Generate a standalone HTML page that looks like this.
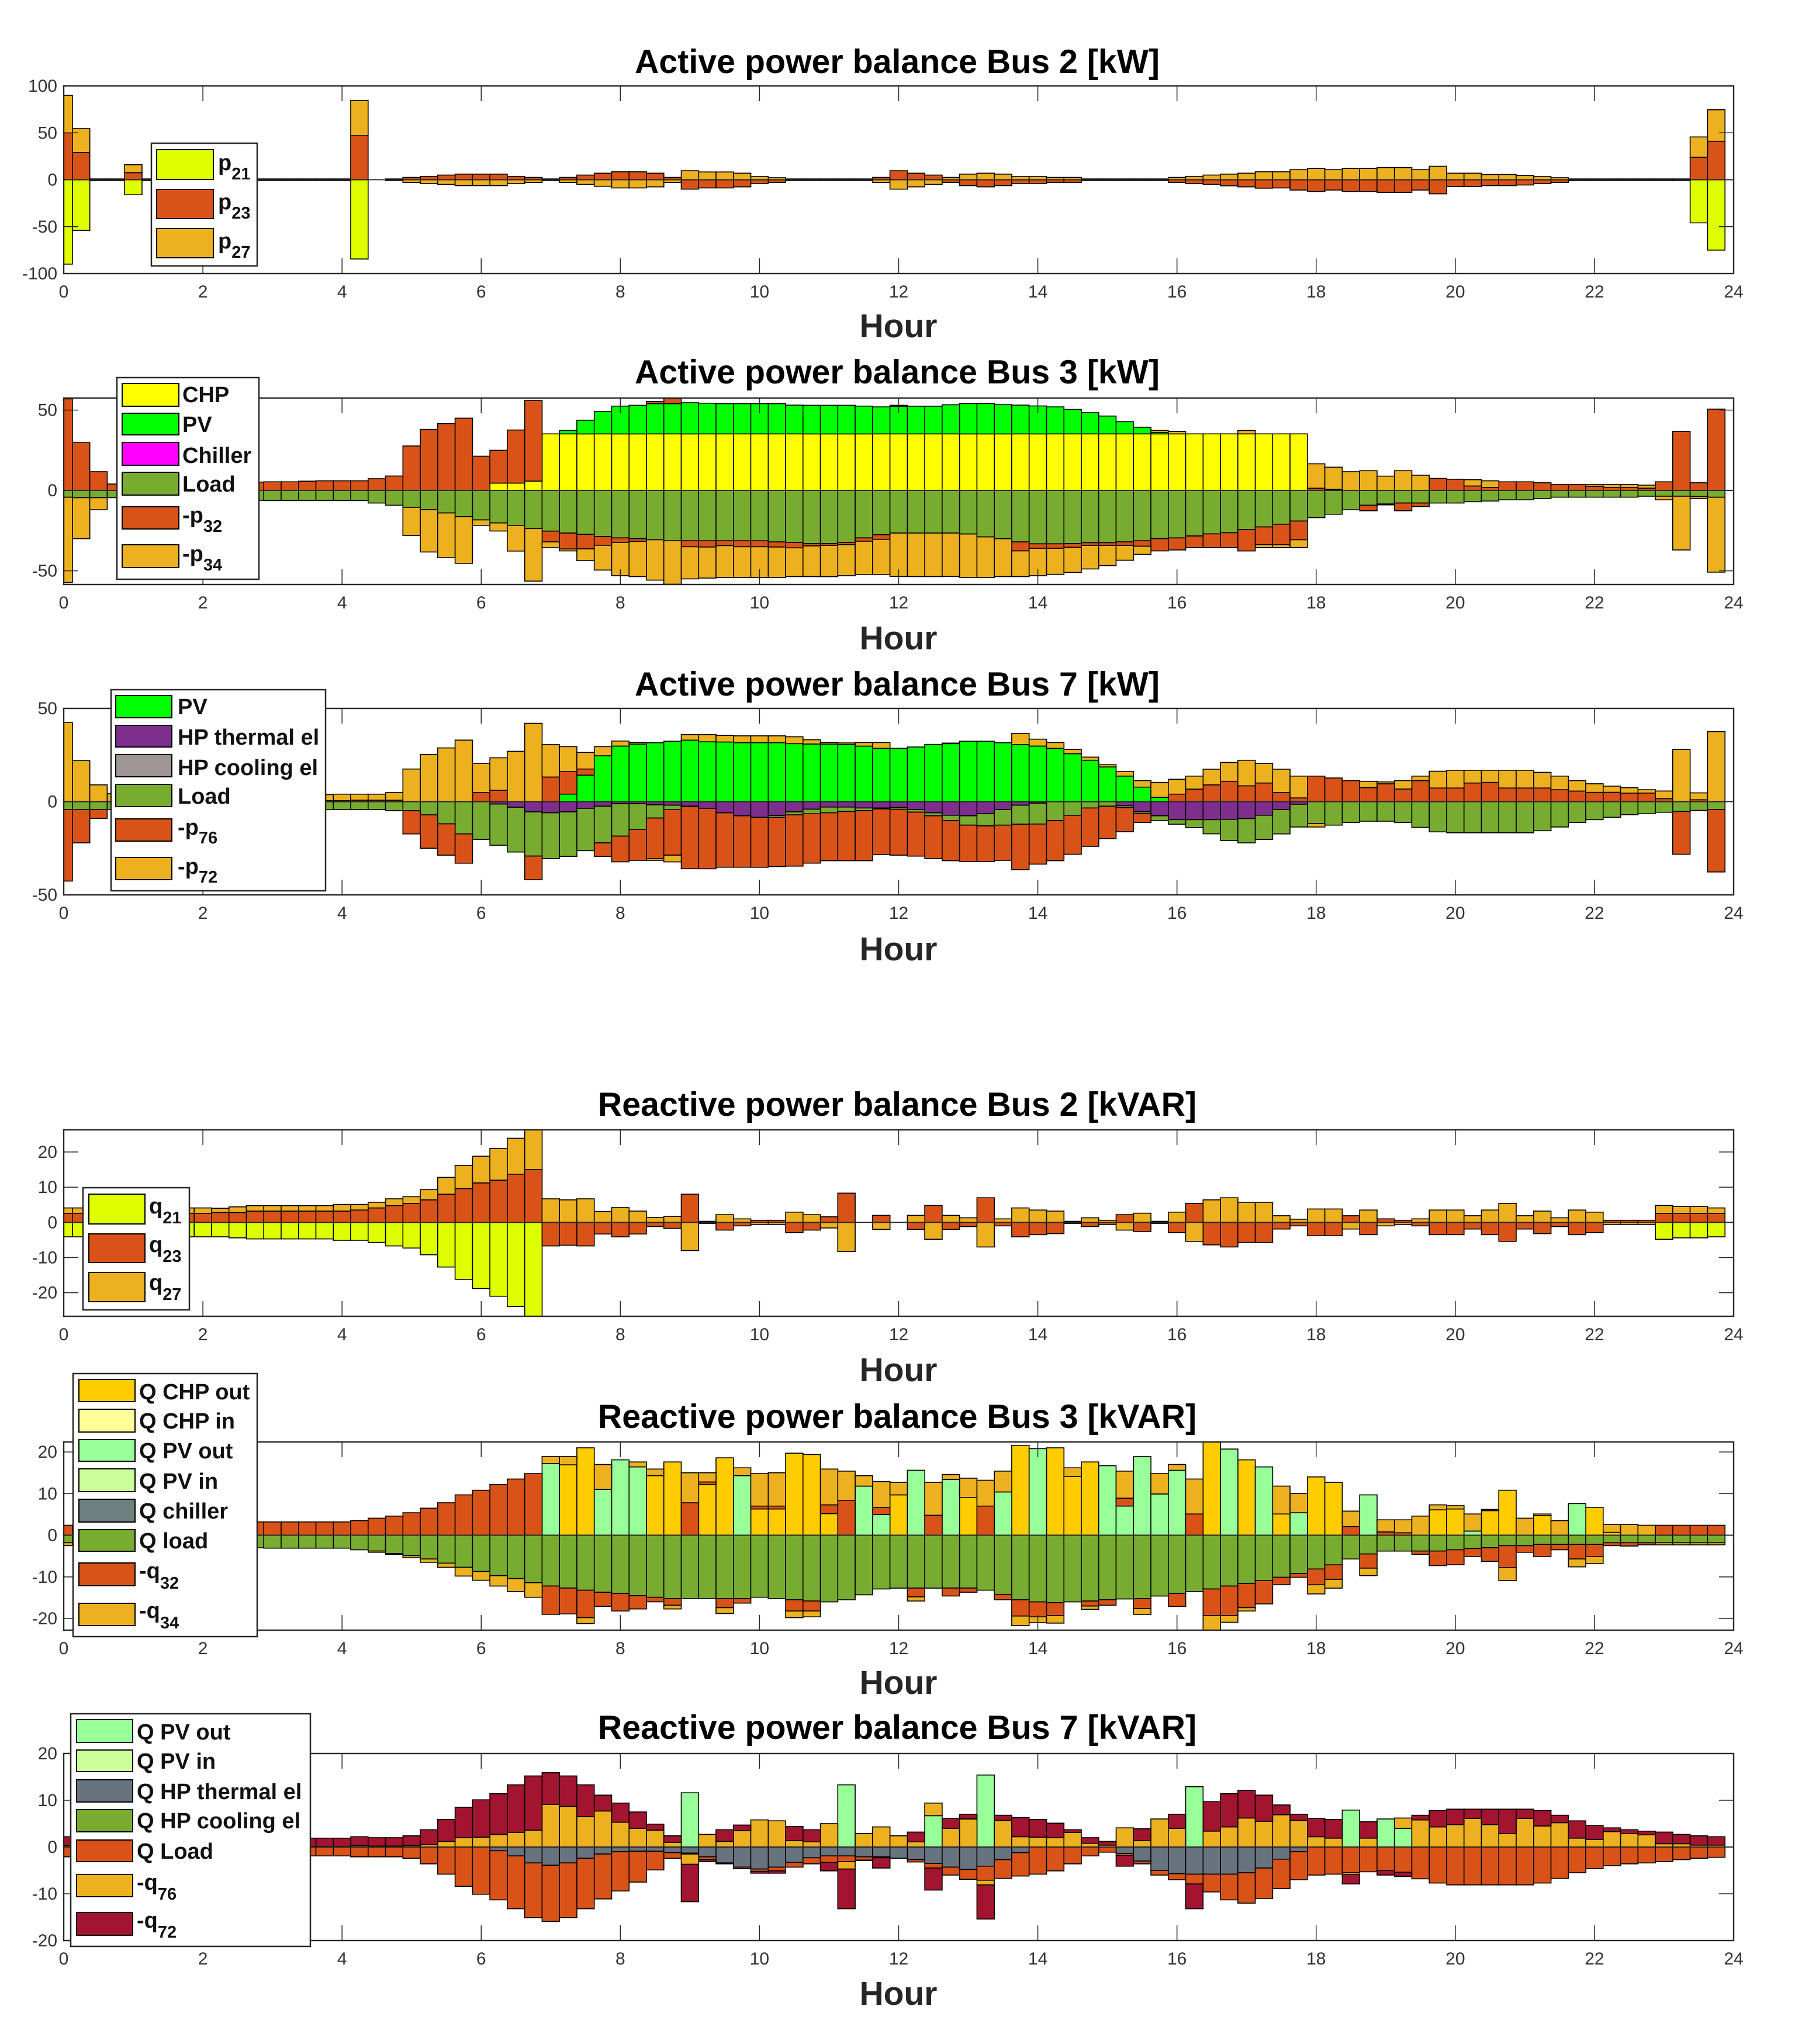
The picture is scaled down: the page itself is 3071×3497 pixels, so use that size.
<!DOCTYPE html>
<html lang="en">
<head>
<meta charset="utf-8">
<title>Active and reactive power balance by bus</title>
<style>
html,body{margin:0;padding:0;background:#fff}
svg{display:block}
text{font-family:"Liberation Sans",Arial,sans-serif}
.title{font-size:57.3px;font-weight:700;fill:#000;text-anchor:middle}
.xlabel{font-size:57px;font-weight:700;fill:#262626;text-anchor:middle}
.tick{font-size:30px;fill:#333}
.lg{font-size:38px;font-weight:700;fill:#111}
.lg tspan{font-size:29px}
.box{fill:#fff;stroke:#262626;stroke-width:2.5}
.sw{stroke:#000;stroke-width:2}
</style>
</head>
<body>
<svg id="figure" xmlns="http://www.w3.org/2000/svg" width="3071" height="3497" viewBox="0 0 3071 3497">
<rect width="3071" height="3497" fill="#fff"/>

<g>
<text class="title" x="1535" y="125">Active power balance Bus 2 [kW]</text>
<text class="xlabel" x="1537" y="577">Hour</text>
<g id="bars-a"></g>
<g id="axes-a"></g>
<g>
<rect class="box" x="259" y="245" width="181" height="210"/>
<rect class="sw" x="268" y="256" width="97" height="51" fill="#DFFF00"/>
<rect class="sw" x="268" y="324" width="97" height="50" fill="#D95319"/>
<rect class="sw" x="268" y="391" width="97" height="50" fill="#EDB120"/>
<text class="lg" x="373" y="291">p<tspan dy="16">21</tspan></text>
<text class="lg" x="373" y="358">p<tspan dy="16">23</tspan></text>
<text class="lg" x="373" y="425">p<tspan dy="16">27</tspan></text>
</g>
</g>

<g>
<text class="title" x="1535" y="656">Active power balance Bus 3 [kW]</text>
<text class="xlabel" x="1537" y="1111">Hour</text>
<g id="bars-b"></g>
<g id="axes-b"></g>
<g>
<rect class="box" x="200" y="646" width="243" height="345"/>
<rect class="sw" x="209" y="656" width="97" height="39" fill="#FFFF00"/>
<rect class="sw" x="209" y="707" width="97" height="37" fill="#00FF00"/>
<rect class="sw" x="209" y="757" width="97" height="39" fill="#FF00FF"/>
<rect class="sw" x="209" y="808" width="97" height="39" fill="#77AC30"/>
<rect class="sw" x="209" y="867" width="97" height="38" fill="#D95319"/>
<rect class="sw" x="209" y="932" width="97" height="39" fill="#EDB120"/>
<text class="lg" x="312" y="688">CHP</text>
<text class="lg" x="312" y="739">PV</text>
<text class="lg" x="312" y="792">Chiller</text>
<text class="lg" x="312" y="841">Load</text>
<text class="lg" x="312" y="894">-p<tspan dy="16">32</tspan></text>
<text class="lg" x="312" y="960">-p<tspan dy="16">34</tspan></text>
</g>
</g>

<g>
<text class="title" x="1535" y="1190">Active power balance Bus 7 [kW]</text>
<text class="xlabel" x="1537" y="1643">Hour</text>
<g id="bars-c"></g>
<g id="axes-c"></g>
<g>
<rect class="box" x="190" y="1180" width="367" height="344"/>
<rect class="sw" x="198" y="1190" width="96" height="38" fill="#00FF00"/>
<rect class="sw" x="198" y="1241" width="96" height="37" fill="#7E2F8E"/>
<rect class="sw" x="198" y="1291" width="96" height="38" fill="#A09595"/>
<rect class="sw" x="198" y="1342" width="96" height="38" fill="#77AC30"/>
<rect class="sw" x="198" y="1401" width="96" height="38" fill="#D95319"/>
<rect class="sw" x="198" y="1467" width="96" height="38" fill="#EDB120"/>
<text class="lg" x="304" y="1222">PV</text>
<text class="lg" x="304" y="1274">HP thermal el</text>
<text class="lg" x="304" y="1326">HP cooling el</text>
<text class="lg" x="304" y="1375">Load</text>
<text class="lg" x="304" y="1428">-p<tspan dy="15">76</tspan></text>
<text class="lg" x="304" y="1495">-p<tspan dy="15">72</tspan></text>
</g>
</g>

<g>
<text class="title" x="1535" y="1909">Reactive power balance Bus 2 [kVAR]</text>
<text class="xlabel" x="1537" y="2363">Hour</text>
<g id="bars-d"></g>
<g id="axes-d"></g>
<g>
<rect class="box" x="142" y="2032" width="182" height="209"/>
<rect class="sw" x="152" y="2043" width="96" height="51" fill="#DFFF00"/>
<rect class="sw" x="152" y="2111" width="96" height="49" fill="#D95319"/>
<rect class="sw" x="152" y="2177" width="96" height="50" fill="#EDB120"/>
<text class="lg" x="255" y="2076">q<tspan dy="17">21</tspan></text>
<text class="lg" x="255" y="2142">q<tspan dy="17">23</tspan></text>
<text class="lg" x="255" y="2207">q<tspan dy="17">27</tspan></text>
</g>
</g>

<g>
<text class="title" x="1535" y="2443">Reactive power balance Bus 3 [kVAR]</text>
<text class="xlabel" x="1537" y="2898">Hour</text>
<g id="bars-e"></g>
<g id="axes-e"></g>
<g>
<rect class="box" x="125" y="2350" width="315" height="450"/>
<rect class="sw" x="135" y="2360" width="96" height="38" fill="#FFCC00"/>
<rect class="sw" x="135" y="2411" width="96" height="39" fill="#FFFF99"/>
<rect class="sw" x="135" y="2463" width="96" height="37" fill="#99FF99"/>
<rect class="sw" x="135" y="2513" width="96" height="39" fill="#CCFF99"/>
<rect class="sw" x="135" y="2565" width="96" height="39" fill="#6E7F80"/>
<rect class="sw" x="135" y="2617" width="96" height="37" fill="#77AC30"/>
<rect class="sw" x="135" y="2674" width="96" height="39" fill="#D95319"/>
<rect class="sw" x="135" y="2743" width="96" height="38" fill="#EDB120"/>
<text class="lg" x="238" y="2394">Q CHP out</text>
<text class="lg" x="238" y="2444">Q CHP in</text>
<text class="lg" x="238" y="2495">Q PV out</text>
<text class="lg" x="238" y="2547">Q PV in</text>
<text class="lg" x="238" y="2598">Q chiller</text>
<text class="lg" x="238" y="2649">Q load</text>
<text class="lg" x="238" y="2700">-q<tspan dy="18">32</tspan></text>
<text class="lg" x="238" y="2768">-q<tspan dy="18">34</tspan></text>
</g>
</g>

<g>
<text class="title" x="1535" y="2975">Reactive power balance Bus 7 [kVAR]</text>
<text class="xlabel" x="1537" y="3430">Hour</text>
<g id="bars-f"></g>
<g id="axes-f"></g>
<g>
<rect class="box" x="121" y="2932" width="410" height="398"/>
<rect class="sw" x="131" y="2942" width="96" height="39" fill="#99FF99"/>
<rect class="sw" x="131" y="2994" width="96" height="37" fill="#CCFF99"/>
<rect class="sw" x="131" y="3045" width="96" height="38" fill="#67737F"/>
<rect class="sw" x="131" y="3096" width="96" height="38" fill="#77AC30"/>
<rect class="sw" x="131" y="3148" width="96" height="37" fill="#D95319"/>
<rect class="sw" x="131" y="3207" width="96" height="38" fill="#EDB120"/>
<rect class="sw" x="131" y="3272" width="96" height="39" fill="#A2142F"/>
<text class="lg" x="234" y="2976">Q PV out</text>
<text class="lg" x="234" y="3026">Q PV in</text>
<text class="lg" x="234" y="3078">Q HP thermal el</text>
<text class="lg" x="234" y="3128">Q HP cooling el</text>
<text class="lg" x="234" y="3180">Q Load</text>
<text class="lg" x="234" y="3233">-q<tspan dy="17">76</tspan></text>
<text class="lg" x="234" y="3298">-q<tspan dy="17">72</tspan></text>
</g>
</g>
</svg>

<script>
/* Categories: quarter-hour bar centres */
const barHours = [
0,.25,.5,.75,1,1.25,1.5,1.75,2,2.25,2.5,2.75,
3,3.25,3.5,3.75,4,4.25,4.5,4.75,5,5.25,5.5,5.75,
6,6.25,6.5,6.75,7,7.25,7.5,7.75,8,8.25,8.5,8.75,
9,9.25,9.5,9.75,10,10.25,10.5,10.75,11,11.25,11.5,11.75,
12,12.25,12.5,12.75,13,13.25,13.5,13.75,14,14.25,14.5,14.75,
15,15.25,15.5,15.75,16,16.25,16.5,16.75,17,17.25,17.5,17.75,
18,18.25,18.5,18.75,19,19.25,19.5,19.75,20,20.25,20.5,20.75,
21,21.25,21.5,21.75,22,22.25,22.5,22.75,23,23.25,23.5,23.75];

const xTickLabels = [0,2,4,6,8,10,12,14,16,18,20,22,24];
const yTicksBus2Active = [-100,-50,0,50,100];
const yTicksActive = [-50,0,50];
const yTicksReactive = [-20,-10,0,10,20];

/* Active power, bus 2 */
const a2p21 = [
-90,-54,0,0,-16,0,0,0,0,0,0,0,
0,0,0,0,0,-84.5,0,0,0,0,0,0,
0,0,0,0,0,0,0,0,0,0,0,0,
0,0,0,0,0,0,0,0,0,0,0,0,
0,0,0,0,0,0,0,0,0,0,0,0,
0,0,0,0,0,0,0,0,0,0,0,0,
0,0,0,0,0,0,0,0,0,0,0,0,
0,0,0,0,0,0,0,0,0,0,-46,-75];
const a2p23 = [
50,29,.9,.9,7.5,.9,.9,.9,.9,.9,.9,.9,
.9,.9,.9,.9,.9,47,0,.9,2.5,3.6,5,6,
6,6,3.6,2.5,.9,2.5,5,7,8.5,8.5,7,2.5,
-10,-8.7,-8.7,-7.6,-4,-3,.9,.9,.9,.9,.9,2.5,
9.6,7,5,-3,-6.3,-7.6,-6.3,-4,-4,-3,-3,.9,
.9,.9,.9,.9,-3,-4.2,-5,-6.5,-7.6,-9,-8.7,-11,
-12.5,-11,-12.5,-12.5,-13.6,-13.6,-11,-15,-7.3,-7.3,-6.3,-6.3,
-5.6,-4.2,-3,.9,.9,.9,.9,.9,.9,.9,24,41];
const a2p27 = [
40,25.5,-.9,-.9,8.5,-.9,-.9,-.9,-.9,-.9,-.9,-.9,
-.9,-.9,-.9,-.9,-.9,37.5,0,-.9,-3,-4.2,-5,-6.3,
-6.3,-6.3,-4.2,-3,-.9,-3,-5,-7,-8.7,-8.7,-7.6,-3,
9.6,8.3,8.3,7,3.4,2.2,-.9,-.9,-.9,-.9,-.9,-3,
-10,-7.6,-5,2.5,6,7,6,3.4,3.4,2.5,2.5,-.9,
-.9,-.9,-.9,-.9,2.5,3.6,5,6,7,8.5,8.5,10.7,
12,10.7,12,12,13,13,10.7,14.3,7,7,5.6,5.6,
4.5,3.4,2.2,-.9,-.9,-.9,-.9,-.9,-.9,-.9,21.6,33.6];

/* Active power, bus 3 */
const a3chp = [
0,0,0,0,0,0,0,0,0,0,0,0,
0,0,0,0,0,0,0,0,0,0,0,0,
0,4.6,4.6,5.8,35.2,35.2,35.2,35.2,35.2,35.2,35.2,35.2,
35.2,35.2,35.2,35.2,35.2,35.2,35.2,35.2,35.2,35.2,35.2,35.2,
35.2,35.2,35.2,35.2,35.2,35.2,35.2,35.2,35.2,35.2,35.2,35.2,
35.2,35.2,35.2,35.2,35.2,35.2,35.2,35.2,35.2,35.2,35.2,35.2,
0,0,0,0,0,0,0,0,0,0,0,0,
0,0,0,0,0,0,0,0,0,0,0,0];
const a3pv = [
0,0,0,0,0,0,0,0,0,0,0,0,
0,0,0,0,0,0,0,0,0,0,0,0,
0,0,0,0,0,2.1,8.5,14,17.3,17.8,18.8,18.8,
19.4,19.1,18.8,18.8,18.8,18.8,17.9,17.8,17.8,17.8,17.3,16.8,
17.1,17.2,17.2,18.1,18.9,18.9,18.2,17.9,17.4,16.8,15.2,13.2,
11.1,7.6,4.1,.9,0,0,0,0,0,0,0,0,
0,0,0,0,0,0,0,0,0,0,0,0,
0,0,0,0,0,0,0,0,0,0,0,0];
const a3load = [
-4.2,-4.5,-4.5,-4.5,-5,-5,-5,-5,-5.5,-6,-6,-6.2,
-6.3,-6.3,-6.3,-6.3,-6.3,-6.3,-7.8,-9.2,-10.5,-12,-14,-16.3,
-18.3,-20.2,-21.7,-23.7,-25.3,-26.5,-27.3,-28.7,-29.5,-30,-30.7,-31.3,
-31.3,-31.3,-31.3,-31.3,-31.3,-32,-32.3,-33,-33,-32.3,-29.5,-27.5,
-26.5,-26.5,-26.5,-26.5,-27.1,-28.9,-30,-32,-33.2,-33.2,-33,-32.5,
-32.5,-32,-31.3,-30,-29.5,-28.3,-27,-26.3,-24.3,-22.7,-21,-19,
-16.9,-14.8,-12,-9.2,-8.4,-7.8,-7.8,-7.8,-7.8,-7,-6.6,-5.8,
-5.8,-5,-4.2,-4.2,-4.2,-4.2,-4.2,-3.6,-3.6,-3.6,-3.8,-4.2];
const a3p32 = [
57,29.8,11.7,4,5,5,5,5,5,5,5,5.2,
5.4,5.4,5.8,6,6,6,7.3,9,27.7,38,41.6,45,
21.3,20.4,33,50.2,-6.7,-9.9,-9,-5.4,-2.8,-1.7,1.4,3.2,
-3.7,-3.9,-3,-3.7,-3.7,-3.2,-3.4,-1.5,-1.2,-1.4,-2.1,-2.9,
.7,0,0,0,0,0,0,-5.6,-2.8,-2.8,-2.4,-1.7,
-1.7,-2.2,-3.4,-7.6,-7.5,-7.2,-8.5,-9.2,-13.3,-11,-12.7,-11.7,
1.4,.7,0,-3.4,-.6,-4.8,-2.2,7.5,7,2.8,1.8,5.4,
5.4,4.8,3.8,3.8,2.6,1.8,1.8,1.4,5.4,36.7,4.8,50.6];
const a3p34 = [
-53,-25.5,-7.5,0,0,0,0,0,0,0,0,0,
0,0,0,0,0,0,0,0,-17.5,-26.3,-27.8,-29,
-3.4,-5,-16,-32.7,-3.6,-1.2,-7.3,-15.4,-20.7,-21.9,-25.1,-27,
-20,-19.3,-19.9,-19.2,-19.2,-19,-17.9,-19.1,-19.4,-19.3,-20.8,-22,
-27,-27.1,-27.1,-27,-27.1,-25.3,-23.6,-16,-17,-16.2,-15.6,-14.6,
-12.5,-9.2,-5.1,1.2,1.5,0,0,0,2.1,-1.8,-1.8,-4.8,
15.2,13.8,11.7,12.3,8.9,12.3,9.5,0,0,3.9,4.2,0,
0,0,0,0,1.2,2,2,1.9,-2.2,-33.4,-1.2,-46.6];

/* Active power, bus 7 */
const a7pv = [
0,0,0,0,0,0,0,0,0,0,0,0,
0,0,0,0,0,0,0,0,0,0,0,0,
0,0,0,0,0,4,14.2,24.6,29.8,30.9,31.6,32.4,
33,32.1,32,31.6,31.6,31.6,31.1,30.9,30.9,30.7,29.8,28.6,
28.6,29.3,30.7,31.1,32.4,32.4,31.6,30.6,29.8,28.6,25.7,22.2,
18.6,13.7,7.8,2.3,0,0,0,0,0,0,0,0,
0,0,0,0,0,0,0,0,0,0,0,0,
0,0,0,0,0,0,0,0,0,0,0,0];
const a7thermal = [
0,0,0,0,0,0,0,0,0,0,0,0,
0,0,0,0,0,0,0,0,0,0,0,0,
0,-1.3,-3,-5.5,-6,-5.5,-3.6,-2.4,-1.1,-1.1,-1.7,-1.9,
-2.4,-3.6,-6,-7.6,-8.4,-7.4,-5.5,-4,-2.9,-2.9,-3.4,-3.4,
-3.1,-4.2,-6,-7.3,-7.6,-6.5,-4.3,-1.9,-.8,0,0,0,
0,-2.2,-5.3,-7.6,-9.7,-9.7,-9.7,-9.5,-9.1,-7.3,-4.3,-1.4,
0,0,0,0,0,0,0,0,0,0,0,0,
0,0,0,0,0,0,0,0,0,0,0,0];
const a7load = [
-4.3,-4.3,-4.3,-4.3,-4.2,-4.2,-4.2,-4.2,-4.2,-4.2,-4.2,-4.2,
-4.3,-4.3,-4.3,-4.3,-4.3,-4.3,-4.3,-4.8,-4.8,-7.1,-11.9,-17.3,
-20.3,-22.1,-24,-23.7,-24.5,-23.9,-22.7,-19.7,-17.4,-13.8,-7.1,-2.4,
-.3,0,0,0,0,-1,-1.6,-2.5,-3.1,-2.4,-1.4,-.5,
-1,-1.4,-1.6,-2.9,-5,-6.5,-8.3,-10.2,-11.2,-10.2,-7.3,-3.4,
-2.4,-1,-1,-2.6,-2.4,-4.2,-7.6,-11.4,-13,-13,-13,-12.2,
-11.7,-12.6,-11.2,-10.5,-10.5,-11.2,-13.8,-16.2,-16.7,-16.7,-16.7,-16.7,
-16.7,-15.6,-13.6,-11.2,-9.7,-8.4,-7,-6.5,-5.7,-5.3,-4.7,-4.2];
const a7p76 = [
-38.3,-17.8,-4.7,0,.5,.5,.5,.5,.5,.5,.5,.5,
.5,.5,.5,.5,.5,.8,.8,.8,-12.5,-17.9,-16.8,-15.7,
4.9,6.1,0,-12.7,13.2,12.1,3.3,-7.3,-13.8,-16.6,-21.7,-24.4,
-33.3,-32.4,-29.2,-27.6,-26.8,-26.4,-27.5,-26.5,-25.7,-26.4,-26.9,-24.5,
-24.6,-23.6,-22.9,-21.5,-19.6,-19.2,-18.9,-24.4,-21.5,-21.5,-20.9,-20.6,
-17.4,-12.9,-4.9,0,4,6.7,9,10.9,8.5,10,4.9,2,
13.7,12.7,11.3,7.5,9.6,6.8,11.3,7.3,7.3,10,10.3,7.3,
7.3,7.3,6.4,5.7,5,5,4.6,4.6,1.6,-22.9,1,-33.5];
const a7p72 = [
42.5,22,9,4.3,3.3,3.3,3.3,3.3,3.3,3.3,3.3,3.3,
3.3,3.3,3.3,3.3,3.5,3.2,3.2,4.1,17.5,25.3,28.8,33,
15.6,17.4,27,42,17.4,13.4,8.9,4.9,2.7,.8,-1,-3.6,
3,3.9,3.5,3.7,3.7,3.7,3.7,2.3,.8,.8,1.9,3.1,
0,0,0,.3,0,0,0,6,3.7,3.1,2.3,1.7,
1.2,2.4,3.5,8,8,7,8.4,10.1,13.7,10.5,12.5,11.7,
-1.9,0,0,3.4,1,4.5,2.4,9,9.5,6.8,6.5,9.5,
9.5,8.4,7.3,5.6,4.6,3.3,2.9,1.8,4.1,28,3.7,37.6];

/* Reactive power, bus 2 */
const r2q21 = [
-4.1,-4.1,-4.1,-4.1,-4.1,-4.1,-4.1,-4.1,-4.1,-4.1,-4.4,-4.7,
-4.7,-4.7,-4.7,-4.7,-5.1,-5.1,-5.7,-6.7,-7.3,-9.2,-12.7,-16.2,
-18.8,-21,-23.9,-28,0,0,0,0,0,0,0,0,
0,0,0,0,0,0,0,0,0,0,0,0,
0,0,0,0,0,0,0,0,0,0,0,0,
0,0,0,0,0,0,0,0,0,0,0,0,
0,0,0,0,0,0,0,0,0,0,0,0,
0,0,0,0,0,0,0,0,-4.8,-4.4,-4.4,-4.1];
const r2q23 = [
2.5,2.5,2.5,2.5,2.5,2.5,2.5,2.5,2.5,2.8,2.8,3.2,
3.2,3.2,3.2,3.2,3.2,3.5,4.1,4.75,5.4,6.4,8,9.6,
11.2,12,13.7,15,-6.7,-6.5,-6.7,-3.3,-4.1,-3.3,-1.2,-1.7,
8,.3,-2.2,-1,.6,.6,-2.9,-2.2,1.6,8.3,0,2,
0,-2,4.8,-2,-1.2,7,-1,-4.1,-3.5,-3.2,.3,-1.2,
-.6,2.2,-2.6,.3,-2.9,5.4,-6.4,-7,-5.7,-5.7,-1.9,-1,
-3.8,-3.8,1.9,-3.5,1,.6,-1,-3.5,-3.5,-1.9,-3.5,-5.4,
-1.9,-3.2,-1.2,-3.5,-2.9,.6,.6,.6,2.5,2.5,2.5,2.5];
const r2q27 = [
1.6,1.6,1.6,1.6,1.6,1.6,1.6,1.6,1.6,1.2,1.6,1.55,
1.55,1.55,1.55,1.55,1.9,1.6,1.6,1.95,1.9,2.9,4.8,6.6,
7.6,9,10.2,13,6.7,6.4,6.7,3.1,4.2,3.2,1.4,1.7,
-8,-.3,2.2,1,-.6,-.6,2.9,2.2,-1.6,-8.3,0,-2,
0,2,-4.8,2,1.3,-7,1,4.1,3.5,3.2,-.3,1.3,
.6,-2.2,2.6,-.3,2.9,-5.4,6.4,7,5.7,5.7,1.9,.9,
3.8,3.8,-1.9,3.5,-1,-.6,1,3.5,3.5,1.9,3.5,5.4,
1.9,3.2,1.3,3.5,2.9,-.6,-.6,-.6,2.3,2,2,1.6];

/* Reactive power, bus 3 */
const r3chpOut = [
0,0,0,0,0,0,0,0,0,0,0,0,
0,0,0,0,0,0,0,0,0,0,0,0,
0,0,0,0,0,16.9,21,0,0,0,14.3,17.6,
0,12.2,18.6,0,6.3,6.3,19.7,19.4,5.2,0,0,0,
9.7,0,0,0,9.1,0,0,21.6,0,21,14.1,17.6,
0,0,0,0,0,0,23,0,18.1,0,5.1,0,
14,12.7,0,0,0,0,0,6.1,6.3,0,5.9,10.8,
0,4.7,0,0,6.7,.7,0,0,0,0,0,0];
const r3pvOut = [
0,0,0,0,0,0,0,0,0,0,0,0,
0,0,0,0,0,0,0,0,0,0,0,0,
0,0,0,0,17.2,0,0,11,18.1,16.4,0,0,
0,0,0,14.3,0,0,0,0,0,0,11.8,5,
0,15.6,0,13.4,0,0,10.4,0,20.8,0,0,0,
16.7,7,18.9,9.9,15.6,0,0,20.7,0,16.4,0,5.4,
0,0,0,9.7,0,0,0,0,0,1,0,0,
0,0,0,7.6,0,0,0,0,0,0,0,0];
const r3load = [
-1.8,-1.8,-2,-2,-2.2,-2.2,-2.5,-2.5,-2.8,-2.8,-3,-3,
-3.1,-3.1,-3.1,-3.1,-3.1,-3.5,-3.8,-4.4,-4.9,-5.7,-6.7,-7.7,
-8.7,-9.7,-10.4,-11.4,-12.2,-12.7,-13.2,-13.7,-14,-14.5,-14.9,-15.2,
-15.2,-15.2,-15.2,-15.2,-14.9,-15.2,-15.5,-15.8,-16,-15.5,-14.3,-12.9,
-12.7,-12.7,-12.7,-12.7,-12.7,-13.2,-14.2,-15.5,-16,-16.2,-16,-15.8,
-15.5,-15.3,-15.2,-14.6,-14,-13.5,-12.9,-12.2,-11.6,-10.9,-10.1,-9.2,
-8.1,-7.1,-5.7,-4.5,-3.8,-3.8,-3.8,-3.8,-3.5,-3.2,-3,-2.5,
-2.5,-2.2,-2.2,-2.2,-2.2,-1.8,-1.8,-1.8,-1.8,-1.8,-1.8,-1.8];
const r3q32 = [
2.4,2.4,2.5,2.6,2.7,2.8,2.9,3,3,3.1,3.1,3.2,
3.2,3.2,3.2,3.2,3.2,3.5,4.1,4.6,5.4,6.5,7.8,9.7,
10.8,12.2,13.5,14.8,-6.8,-6.2,-6.6,-3.4,-4.2,-3.2,-1.1,-1.6,
7.8,.6,-2.2,-1.1,.7,.7,-2.7,-2.4,2.1,8.4,0,1.7,
0,-2.1,4.8,-1.9,-1,7,-1.3,-3.9,-3.6,-3.1,0,-1.2,
-1.3,1.9,-2.4,0,-3.1,5.1,-6.4,-7.1,-5.8,-5.6,-1.8,-.9,
-3.8,-3.5,2.1,-3.4,.8,.6,-.8,-3.5,-3.6,-1.9,-3.3,-5.3,
-1.6,-2.9,-1.3,-3.5,-2.9,-.7,-.8,-.5,2.4,2.4,2.4,2.4];
const r3q34 = [
-.7,0,0,0,0,0,0,0,0,0,0,0,
0,0,0,0,0,0,-.3,-.2,-.5,-.8,-1,-2.1,
-2.1,-2.5,-3.1,-3.5,1.7,2,-1.4,6,0,1.2,1.6,-.9,
7.2,2.2,-1.4,1.9,7.8,8,-1.6,-1.4,8.6,7,2.5,6.2,
3,-1,7.9,1.2,4.6,6.2,5,-2.3,-1.4,-1.8,2.1,-.8,
0,6.5,-1.4,4.9,1.4,8.4,-3.7,-1.6,-.8,0,6.7,4.6,
-2.2,-2.1,3.7,-1.8,2.9,3.1,4.6,1.2,.8,4.1,.3,-3.1,
4.1,.4,3.5,-1.9,-1.7,1.9,2.6,2.4,-.5,-.5,-.5,-.5];

/* Reactive power, bus 7 */
const r7pvOut = [
0,0,0,0,0,0,0,0,0,0,0,0,
0,0,0,0,0,0,0,0,0,0,0,0,
0,0,0,0,0,0,0,0,0,0,0,0,
11.6,0,0,0,0,0,0,0,0,13.3,0,0,
0,0,6.7,0,0,15.4,0,0,0,0,0,0,
0,0,0,0,0,12.9,0,0,0,0,0,0,
0,0,7.9,0,6,4,0,0,0,0,0,0,
0,0,0,0,0,0,0,0,0,0,0,0];
const r7thermal = [
0,0,0,0,0,0,0,0,0,0,0,0,
0,0,0,0,0,0,0,0,0,0,0,0,
0,-.8,-1.9,-3.4,-3.9,-3.4,-2.4,-1.5,-1,-.9,-.9,-1.2,
-1.3,-2.1,-3.4,-4.3,-4.7,-4.3,-3.3,-2.3,-1.9,-1.9,-2.1,-2.1,
-2.4,-2.7,-3.5,-4.3,-4.8,-4.1,-2.7,-1.2,0,0,0,0,
0,-1.4,-3,-5,-5.7,-5.8,-5.8,-5.8,-5.5,-4.5,-2.6,-1,
0,0,0,0,0,0,0,0,0,0,0,0,
0,0,0,0,0,0,0,0,0,0,0,0];
const r7load = [
-2.1,-2,-1.9,-1.9,-1.9,-1.9,-1.9,-1.9,-1.9,-1.9,-1.9,-1.9,
-1.9,-1.9,-1.9,-1.9,-1.9,-2.1,-2.1,-2.1,-2.4,-3.6,-5.8,-8.4,
-10.1,-10.5,-11.3,-11.7,-12,-11.7,-10.8,-9.6,-8.4,-6.6,-4,-1.2,
-.2,-.6,-.2,-.3,-.5,-.8,-1,-1.3,-1.4,-1.2,-.7,-.2,
0,-.5,-1,-1.7,-2.1,-3,-4,-5,-5.8,-5.1,-3.6,-1.9,
-1.1,-.4,-.6,-1,-1.3,-2.1,-3.8,-5.5,-6.5,-6.5,-6.3,-6,
-6,-5.8,-5.5,-5.3,-5,-5.4,-6.8,-7.7,-8.1,-8.1,-8.1,-8.1,
-8.1,-7.7,-6.7,-5.5,-4.6,-4,-3.6,-3.4,-3.1,-2.7,-2.4,-2.2];
const r7q76 = [
.3,.2,.2,.2,.1,.1,.1,.1,.1,.1,.1,.1,
.1,.1,.1,.1,.1,.3,.2,.2,.3,.5,1.2,2,
2.1,2.7,3.1,3.6,9.1,8.7,6.5,7.7,5.3,4,3.6,1,
-2.2,2.7,1.2,3.5,5.8,5.6,1.4,1.1,5,-1.6,2.9,4.3,
2.4,1.1,2.7,4,6,-1,5.7,2.2,2.1,2,3.1,.8,
.4,4.1,1.4,6,4,0,3.4,4.3,6.2,5.5,6.9,5.7,
2.2,1.9,-.4,1.9,0,2.2,5.8,4.3,4.8,6.1,4.8,2.9,
6.1,4.5,5.2,1.9,1.6,3.3,2.9,2.6,.7,.7,.4,.4];
const r7q72 = [
1.9,1.9,1.9,1.8,1.8,1.8,1.8,1.8,1.8,1.8,1.8,1.8,
1.8,1.8,1.8,1.8,1.8,1.9,1.8,1.8,2.1,3.2,4.7,6.5,
8,8.7,10.2,11.6,6.8,6.5,6.8,3.4,4.1,3.5,1.3,1.4,
-8,-.4,2.5,1.2,-.4,-.5,3,2.6,-1.8,-8.5,-.1,-2.2,
0,2.1,-4.7,2.1,1,-7.3,1.1,4.1,3.8,3.1,.6,1.2,
.8,-2.3,2.5,0,3,-5.3,6.3,7.1,5.9,5.6,2.1,1.3,
3.9,4,-2,3.5,-1,-.9,1,3.5,3.3,2,3.3,5.2,
2,3.3,1.6,3.7,3,.8,.8,.8,2.5,2,2,1.8];

const SVG_NS = 'http://www.w3.org/2000/svg';
const AXIS_LEFT = 109, AXIS_RIGHT = 2966, X_MAX = 24;

const charts = [
  {key:'a', top:147, bottom:468, yMax:100, yMin:-100, ticks:yTicksBus2Active,
   series:[['p21',a2p21,'#DFFF00'],['p23',a2p23,'#D95319'],['p27',a2p27,'#EDB120']]},
  {key:'b', top:681, bottom:1000, yMax:57.5, yMin:-58.5, ticks:yTicksActive,
   series:[['chp',a3chp,'#FFFF00'],['pv',a3pv,'#00FF00'],['load',a3load,'#77AC30'],['p32',a3p32,'#D95319'],['p34',a3p34,'#EDB120']]},
  {key:'c', top:1212, bottom:1531, yMax:50, yMin:-50, ticks:yTicksActive,
   series:[['pv',a7pv,'#00FF00'],['hp-thermal',a7thermal,'#7E2F8E'],['load',a7load,'#77AC30'],['p76',a7p76,'#D95319'],['p72',a7p72,'#EDB120']]},
  {key:'d', top:1933, bottom:2252, yMax:26.3, yMin:-26.7, ticks:yTicksReactive,
   series:[['q21',r2q21,'#DFFF00'],['q23',r2q23,'#D95319'],['q27',r2q27,'#EDB120']]},
  {key:'e', top:2467, bottom:2789, yMax:22.4, yMin:-22.8, ticks:yTicksReactive,
   series:[['q-chp-out',r3chpOut,'#FFCC00'],['q-pv-out',r3pvOut,'#99FF99'],['q-load',r3load,'#77AC30'],['q32',r3q32,'#D95319'],['q34',r3q34,'#EDB120']]},
  {key:'f', top:3000, bottom:3320, yMax:20, yMin:-20, ticks:yTicksReactive,
   series:[['q-pv-out',r7pvOut,'#99FF99'],['q-hp-thermal',r7thermal,'#67737F'],['q-load',r7load,'#D95319'],['q76',r7q76,'#EDB120'],['q72',r7q72,'#A2142F']]}
];

function xScale(h){ return AXIS_LEFT + h * (AXIS_RIGHT - AXIS_LEFT) / X_MAX; }
function yScaleFor(c){ return v => c.top + (c.yMax - v) * (c.bottom - c.top) / (c.yMax - c.yMin); }

function shape(tag, attrs){
  const n = document.createElementNS(SVG_NS, tag);
  for (const k in attrs) n.setAttribute(k, attrs[k]);
  return n;
}

function drawBars(c){
  const g = document.getElementById('bars-' + c.key);
  const y = yScaleFor(c);
  const clipId = 'clip-' + c.key;
  const clip = shape('clipPath', {id: clipId});
  clip.appendChild(shape('rect', {x: AXIS_LEFT, y: c.top, width: AXIS_RIGHT - AXIS_LEFT, height: c.bottom - c.top}));
  g.appendChild(clip);
  g.setAttribute('clip-path', 'url(#' + clipId + ')');
  const pos = barHours.map(() => 0), neg = barHours.map(() => 0);
  c.series.forEach(s => {
    barHours.forEach((h, i) => {
      const v = s[1][i];
      if (!v) return;
      let a, b;
      if (v > 0) { a = pos[i]; b = a + v; pos[i] = b; }
      else { a = neg[i]; b = a + v; neg[i] = b; }
      const x0 = xScale(h - 0.125), x1 = xScale(h + 0.125);
      const r = shape('rect', {
        x: x0.toFixed(1), y: Math.min(y(a), y(b)).toFixed(1),
        width: (x1 - x0).toFixed(1), height: Math.abs(y(a) - y(b)).toFixed(1),
        fill: s[2], stroke: '#000', 'stroke-width': 1.6
      });
      
      
      g.appendChild(r);
    });
  });
}

function drawAxes(c){
  const g = document.getElementById('axes-' + c.key);
  const y = yScaleFor(c);
  const ink = '#262626';
  const zero = shape('line', {x1: AXIS_LEFT, x2: AXIS_RIGHT, y1: y(0), y2: y(0), stroke: ink, 'stroke-width': 1.8});
  
  
  g.appendChild(zero);

  xTickLabels.forEach(t => {
    const x = xScale(t);
    const tb = shape('line', {x1: x, x2: x, y1: c.bottom, y2: c.bottom - 26, stroke: ink, 'stroke-width': 1.5});
    
    
    g.appendChild(tb);
    const tt = shape('line', {x1: x, x2: x, y1: c.top, y2: c.top + 26, stroke: ink, 'stroke-width': 1.5});
    
    
    g.appendChild(tt);
    const lab = shape('text', {x: x, y: c.bottom + 41, class: 'tick', 'text-anchor': 'middle'});
    
    
    lab.textContent = t;
    g.appendChild(lab);
  });

  c.ticks.forEach(t => {
    const py = y(t);
    const tl = shape('line', {x1: AXIS_LEFT, x2: AXIS_LEFT + 25, y1: py, y2: py, stroke: ink, 'stroke-width': 1.5});
    
    
    g.appendChild(tl);
    const tr = shape('line', {x1: AXIS_RIGHT - 25, x2: AXIS_RIGHT, y1: py, y2: py, stroke: ink, 'stroke-width': 1.5});
    
    
    g.appendChild(tr);
    const lab = shape('text', {x: 98, y: py + 10, class: 'tick', 'text-anchor': 'end'});
    
    
    lab.textContent = t;
    g.appendChild(lab);
  });

  const frame = shape('rect', {x: AXIS_LEFT, y: c.top, width: AXIS_RIGHT - AXIS_LEFT, height: c.bottom - c.top, fill: 'none', stroke: ink, 'stroke-width': 2.4});
  
  
  g.appendChild(frame);
}

charts.forEach(c => { drawBars(c); drawAxes(c); });
</script>
</body>
</html>
